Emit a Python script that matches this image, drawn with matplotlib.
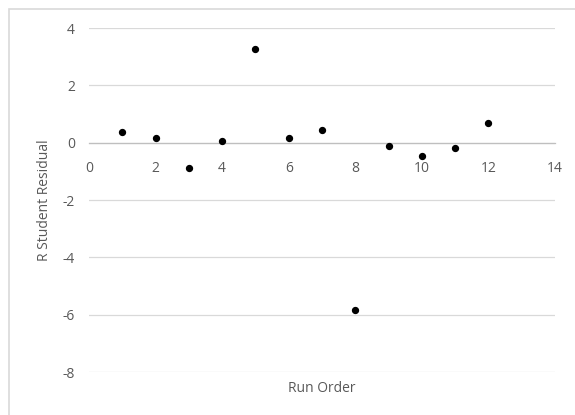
import matplotlib
matplotlib.use("Agg")
from matplotlib import pyplot as plt
from matplotlib.patches import Rectangle

# run order vs R student residual
run_order = [1, 2, 3, 4, 5, 6, 7, 8, 9, 10, 11, 12]
r_student = [0.38, 0.17, -0.9, 0.07, 3.28, 0.17, 0.45, -5.83, -0.1, -0.45, -0.2, 0.7]
x_ticks = [0, 2, 4, 6, 8, 10, 12, 14]
y_ticks = [-8, -6, -4, -2, 0, 2, 4]

plt.rcParams['font.family'] = ['Open Sans', 'DejaVu Sans']
plt.rcParams['axes.unicode_minus'] = False
txt = '#595959'

fig = plt.figure(figsize=(5.75, 4.15), dpi=100)
fig.patches.append(Rectangle((9/575, -0.1), 1.2, 1 - 9/415 + 0.1, transform=fig.transFigure,
                             fill=False, edgecolor='#d9d9d9', linewidth=1.2))

ax = fig.add_axes([89/575, 1 - 372/415, (555 - 89)/575, (372 - 28)/415])
ax.scatter(run_order, r_student, s=18, color='black', zorder=3)

ax.set_xlim(0, 14)
ax.set_ylim(-8, 4)
ax.set_xticks(x_ticks)
ax.set_yticks(y_ticks)
ax.grid(axis='y', color='#d9d9d9', linewidth=0.9)
ax.set_axisbelow(True)

for s in ['top', 'right', 'left']:
    ax.spines[s].set_visible(False)
ax.spines['bottom'].set_position(('data', 0))
ax.spines['bottom'].set_color('#bfbfbf')
ax.spines['bottom'].set_linewidth(0.9)
ax.tick_params(axis='x', length=0, pad=13, labelsize=10, labelcolor=txt)
ax.tick_params(axis='y', length=0, pad=10, labelsize=10, labelcolor=txt)

ax.set_ylabel('R Student Residual', fontsize=10, color=txt, labelpad=8)
fig.text((89 + 555)/2/575, 1 - 388/415, 'Run Order', ha='center', va='center', fontsize=10, color=txt)

fig.savefig('out.png', dpi=100)
